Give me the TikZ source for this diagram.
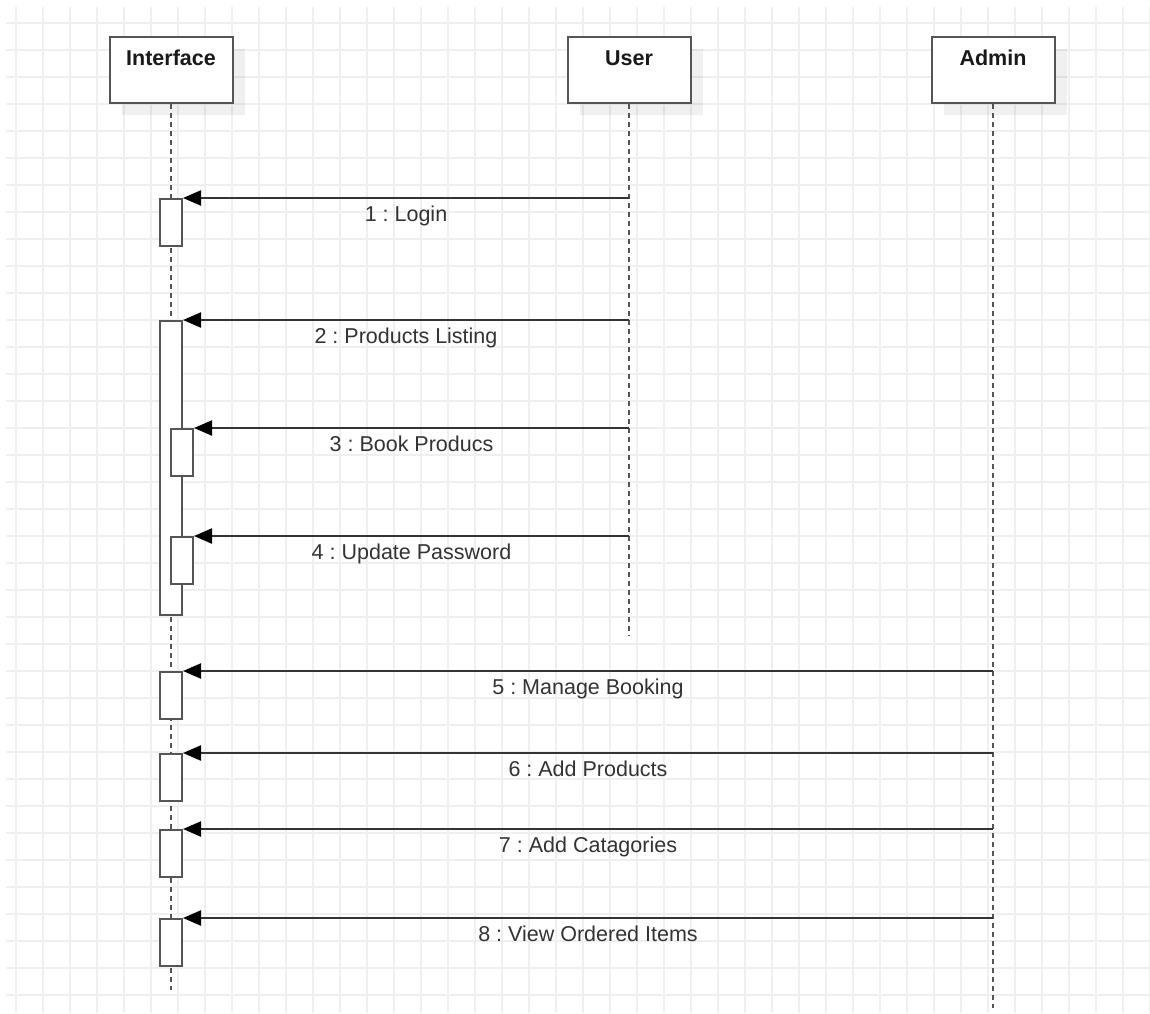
\documentclass[tikz,border=0pt]{standalone}
\usepackage{fontspec}
\setmainfont{Liberation Sans}
\usetikzlibrary{arrows.meta, shadows}
\definecolor{gridgray}{HTML}{EFEFEF}
\definecolor{boxgray}{HTML}{555555}
\definecolor{txtgray}{HTML}{333333}

\begin{document}
\begin{tikzpicture}[
  x=1pt, y=-1pt,
  every node/.style={font=\fontsize{21.5}{25}\selectfont\frenchspacing},
  gridline/.style={gridgray, line width=1.2pt},
  head/.style={draw=boxgray, line width=2pt, fill=white, anchor=north,
    minimum width=123pt, text height=15pt, text depth=25pt, inner ysep=13pt,
    font=\fontsize{21.5}{25}\selectfont\bfseries, text=black!90,
    drop shadow={shadow xshift=12pt, shadow yshift=-12pt, fill=black, opacity=0.06}},
  life/.style={boxgray, line width=2pt, dash pattern=on 5pt off 4pt},
  act/.style={draw=boxgray, line width=2pt, fill=white, anchor=north,
    minimum width=22pt, inner sep=0pt},
  msg/.style={txtgray, line width=2.2pt, -{Triangle[length=18pt, width=15pt, color=black]}},
  msglabel/.style={below=5pt, text=txtgray, inner sep=2pt}
]
\useasboundingbox (0,0) rectangle (1150,1013);
\fill[white] (0,0) rectangle (1150,1013);

% Background grid
\foreach \i in {0,...,42} {
  \draw[gridline] ({16+27*\i},7) -- ({16+27*\i},1013);
}
\foreach \j in {0,...,36} {
  \draw[gridline] (6,{23+27*\j}) -- (1150,{23+27*\j});
}

% Lifeline heads
\node[head] (iface) at (171,36) {Interface};
\node[head] (user) at (629,36) {User};
\node[head] (admin) at (993,36) {Admin};

% Lifelines
\coordinate (iface end) at (171,990);
\coordinate (user end) at (629,636);
\coordinate (admin end) at (993,1008);
\draw[life] (iface) -- (iface end);
\draw[life] (user) -- (user end);
\draw[life] (admin) -- (admin end);

% Activations
\node[act, minimum height=47pt] (a1) at (171,198) {};
\node[act, minimum height=294pt] (a2) at (171,320) {};
\node[act, minimum height=47pt] (a3) at (182,428) {};
\node[act, minimum height=47pt] (a4) at (182,536) {};
\node[act, minimum height=47pt] (a5) at (171,671) {};
\node[act, minimum height=47pt] (a6) at (171,753) {};
\node[act, minimum height=47pt] (a7) at (171,829) {};
\node[act, minimum height=47pt] (a8) at (171,918) {};

% Messages from User
\draw[msg] (user |- a1.north east) -- (a1.north east) node[msglabel, midway] {1 : Login};
\draw[msg] (user |- a2.north east) -- (a2.north east) node[msglabel, midway] {2 : Products Listing};
\draw[msg] (user |- a3.north east) -- (a3.north east) node[msglabel, midway] {3 : Book Producs};
\draw[msg] (user |- a4.north east) -- (a4.north east) node[msglabel, midway] {4 : Update Password};

% Messages from Admin
\draw[msg] (admin |- a5.north east) -- (a5.north east) node[msglabel, midway] {5 : Manage Booking};
\draw[msg] (admin |- a6.north east) -- (a6.north east) node[msglabel, midway] {6 : Add Products};
\draw[msg] (admin |- a7.north east) -- (a7.north east) node[msglabel, midway] {7 : Add Catagories};
\draw[msg] (admin |- a8.north east) -- (a8.north east) node[msglabel, midway] {8 : View Ordered Items};

\end{tikzpicture}
\end{document}
